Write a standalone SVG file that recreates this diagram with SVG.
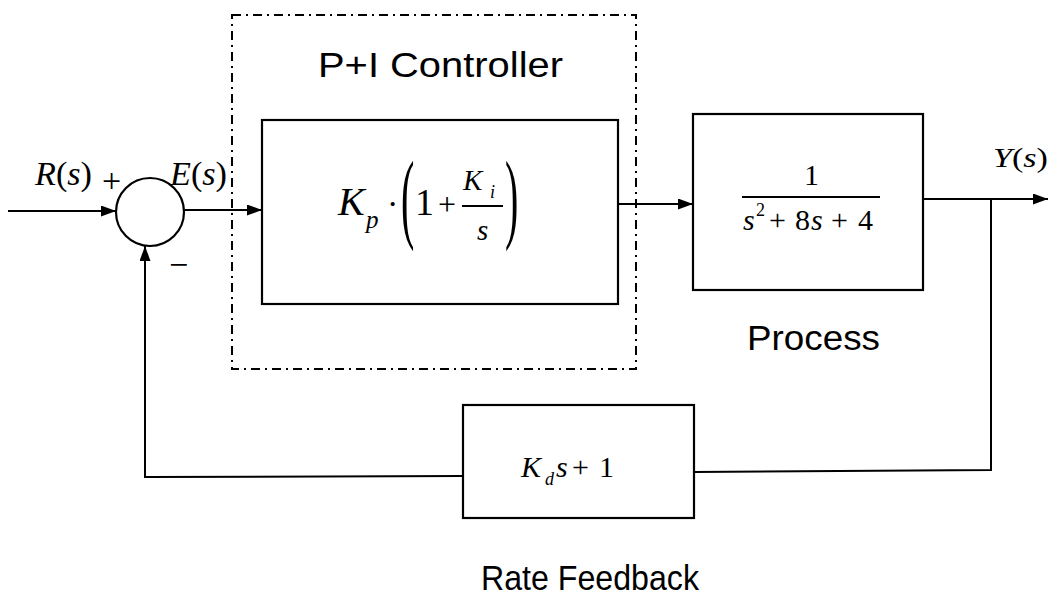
<svg xmlns="http://www.w3.org/2000/svg" width="1050" height="597" viewBox="0 0 1050 597">
  <style>
    .blk { fill: none; stroke: #000; stroke-width: 2.2; }
    .wire { fill: none; stroke: #000; stroke-width: 2; }
    .group { fill: none; stroke: #000; stroke-width: 2; stroke-dasharray: 9 5 2 5; }
    .lbl { font-family: "Liberation Sans", Arial, sans-serif; font-size: 35px; fill: #000; }
    .m { font-family: "Liberation Serif", "Times New Roman", serif; fill: #000; }
    .i { font-style: italic; }
  </style>
  <defs>
    <marker id="arrow" viewBox="0 0 15 11" refX="15" refY="5.5" markerWidth="15" markerHeight="11" markerUnits="userSpaceOnUse" orient="auto">
      <path d="M0,0 L15,5.5 L0,11 Z" fill="#000"/>
    </marker>
  </defs>
  <rect width="1050" height="597" fill="#fff"/>

  <!-- connectors -->
  <g id="connectors">
    <line class="wire" x1="8" y1="211" x2="116" y2="211" marker-end="url(#arrow)"/>
    <line class="wire" x1="184" y1="210" x2="262" y2="210" marker-end="url(#arrow)"/>
    <line class="wire" x1="618" y1="204" x2="693" y2="204" marker-end="url(#arrow)"/>
    <line class="wire" x1="923" y1="199" x2="1048" y2="199" marker-end="url(#arrow)"/>
    <polyline class="wire" points="991,199 991,470 694,472"/>
    <polyline class="wire" points="463,476 145,477 145,246" marker-end="url(#arrow)"/>
  </g>

  <!-- signal labels -->
  <g id="signals">
    <text class="m" x="35" y="185" font-size="33" textLength="57" lengthAdjust="spacingAndGlyphs"><tspan class="i">R</tspan>(<tspan class="i">s</tspan>)</text>
    <text class="m" x="102" y="192" font-size="34">+</text>
    <text class="m" x="170" y="185" font-size="33" textLength="57" lengthAdjust="spacingAndGlyphs"><tspan class="i">E</tspan>(<tspan class="i">s</tspan>)</text>
    <text class="m" x="169" y="276" font-size="34">−</text>
    <text class="m" x="993" y="167" font-size="27" textLength="55" lengthAdjust="spacingAndGlyphs"><tspan class="i">Y</tspan>(<tspan class="i">s</tspan>)</text>
  </g>

  <!-- summing junction -->
  <g id="sum">
    <circle class="blk" cx="150" cy="212" r="34"/>
  </g>

  <!-- P+I controller (dashed grouping) -->
  <g id="controller">
    <rect class="group" x="232" y="15" width="404" height="354"/>
    <text class="lbl" x="318" y="77" textLength="245" lengthAdjust="spacingAndGlyphs">P+I Controller</text>
    <rect class="blk" x="262" y="120" width="356" height="184"/>
    <text class="m i" x="338" y="215" font-size="40">K</text>
    <text class="m i" x="366" y="228" font-size="25">p</text>
    <text class="m" x="387" y="215" font-size="34">·</text>
    <text class="m" x="401" y="230" font-size="40" transform="translate(401 230) scale(1 2.5) translate(-401 -230)">(</text>
    <text class="m" x="415" y="215" font-size="38">1</text>
    <text class="m" x="438" y="215" font-size="32">+</text>
    <text class="m i" x="463" y="190" font-size="29">K</text>
    <text class="m i" x="490" y="198" font-size="18">i</text>
    <line class="wire" x1="462" y1="206" x2="503" y2="206" stroke-width="1.6"/>
    <text class="m i" x="477" y="240" font-size="29">s</text>
    <text class="m" x="505" y="230" font-size="40" transform="translate(505 230) scale(1 2.5) translate(-505 -230)">)</text>
  </g>

  <!-- process -->
  <g id="process">
    <rect class="blk" x="693" y="114" width="230" height="176"/>
    <text class="m" x="804" y="185" font-size="30">1</text>
    <line class="wire" x1="742" y1="197" x2="880" y2="197" stroke-width="1.6"/>
    <text class="m i" x="743" y="230" font-size="30">s</text>
    <text class="m" x="756" y="216" font-size="18">2</text>
    <text class="m" x="769" y="230" font-size="30">+</text>
    <text class="m" x="795" y="230" font-size="30">8</text>
    <text class="m i" x="811" y="230" font-size="30">s</text>
    <text class="m" x="831" y="230" font-size="30">+</text>
    <text class="m" x="858" y="230" font-size="30">4</text>
    <text class="lbl" x="747" y="350" textLength="133" lengthAdjust="spacingAndGlyphs">Process</text>
  </g>

  <!-- rate feedback -->
  <g id="feedback">
    <rect class="blk" x="463" y="405" width="231" height="113"/>
    <text class="m i" x="521" y="477" font-size="30">K</text>
    <text class="m i" x="545" y="485" font-size="18">d</text>
    <text class="m i" x="556" y="477" font-size="30">s</text>
    <text class="m" x="572" y="477" font-size="30">+</text>
    <text class="m" x="599" y="477" font-size="30">1</text>
    <text class="lbl" x="481" y="590" font-size="33" textLength="218" lengthAdjust="spacingAndGlyphs">Rate Feedback</text>
  </g>
</svg>
